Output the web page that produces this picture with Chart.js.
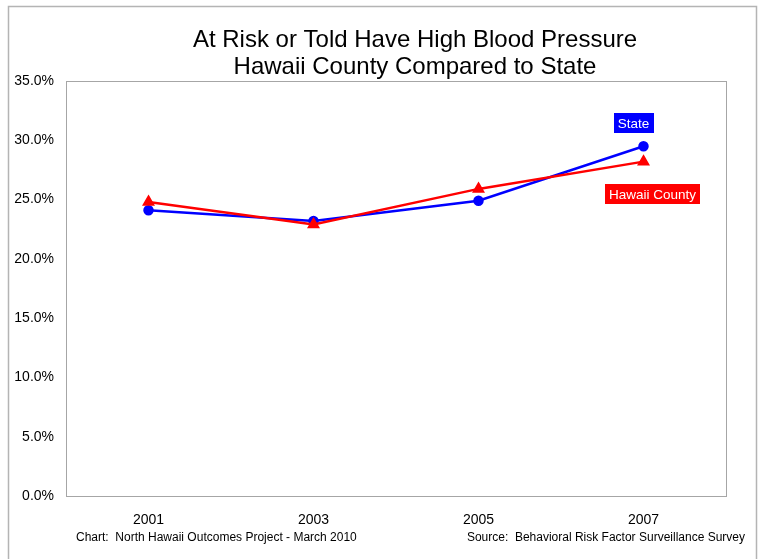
<!DOCTYPE html>
<html>
<head>
<meta charset="utf-8">
<script src="https://cdn.jsdelivr.net/npm/chart.js@4.4.0/dist/chart.umd.min.js"></script>
<style>
  html, body { margin: 0; padding: 0; background: #ffffff; }
  #wrap { width: 759px; height: 559px; position: relative; }
</style>
</head>
<body>
<div id="wrap"><canvas id="bp-chart" width="759" height="559"></canvas></div>
<script>
    // data
    const years = ['2001', '2003', '2005', '2007'];
    const stateValues = [24.1, 23.2, 24.9, 29.5];
    const hawaiiCountyValues = [24.8, 22.9, 25.9, 28.2];
    const yTicks = [0, 5, 10, 15, 20, 25, 30, 35];

    const titleLines = ['At Risk or Told Have High Blood Pressure', 'Hawaii County Compared to State'];
    const footerLeft = 'Chart:  North Hawaii Outcomes Project - March 2010';
    const footerRight = 'Source:  Behavioral Risk Factor Surveillance Survey';

    const FONT = '"Liberation Sans", Arial, sans-serif';

    // frame, title, footer and series labels
    const decorPlugin = {
        id: 'decor',
        beforeDraw(chart) {
            const ctx = chart.ctx;
            ctx.save();
            ctx.fillStyle = '#ffffff';
            ctx.fillRect(0, 0, chart.width, chart.height);
            // outer frame (bottom runs off the picture)
            ctx.strokeStyle = '#b4b4b4';
            ctx.lineWidth = 1.5;
            ctx.beginPath();
            ctx.moveTo(8.5, 570);
            ctx.lineTo(8.5, 6.5);
            ctx.lineTo(756.5, 6.5);
            ctx.lineTo(756.5, 570);
            ctx.stroke();
            ctx.restore();
        },
        afterDatasetsDraw(chart) {
            const ctx = chart.ctx;
            const area = chart.chartArea;
            const xs = chart.scales.x;
            const ys = chart.scales.y;
            ctx.save();

            // plot area border
            ctx.strokeStyle = '#a6a6a6';
            ctx.lineWidth = 1;
            ctx.strokeRect(Math.round(area.left) + 0.5, Math.round(area.top) + 0.5,
                Math.round(area.right - area.left), Math.round(area.bottom - area.top));

            // title
            ctx.fillStyle = '#000000';
            ctx.font = '24px ' + FONT;
            ctx.textAlign = 'center';
            ctx.textBaseline = 'middle';
            ctx.fillText(titleLines[0], 415, 40);
            ctx.fillText(titleLines[1], 415, 67);

            // footer
            ctx.font = '12px ' + FONT;
            ctx.textAlign = 'left';
            ctx.fillText(footerLeft, 76, 538);
            ctx.textAlign = 'right';
            ctx.fillText(footerRight, 745, 538);

            // series labels next to the last point
            const last = years.length - 1;
            const drawTag = (text, bg, cx, cy) => {
                ctx.font = '13.5px ' + FONT;
                const w = ctx.measureText(text).width + 8;
                const h = 20;
                ctx.fillStyle = bg;
                ctx.fillRect(Math.round(cx - w / 2), Math.round(cy - h / 2), Math.round(w), h);
                ctx.fillStyle = '#ffffff';
                ctx.textAlign = 'center';
                ctx.textBaseline = 'middle';
                ctx.fillText(text, cx, cy + 1);
            };
            drawTag('State', '#0000ff', xs.getPixelForValue(last) - 10, ys.getPixelForValue(31.45));
            drawTag('Hawaii County', '#ff0000', xs.getPixelForValue(last) + 9, ys.getPixelForValue(25.45));

            ctx.restore();
        }
    };

    new Chart(document.getElementById('bp-chart'), {
        type: 'line',
        data: {
            labels: years,
            datasets: [
                {
                    label: 'State',
                    data: stateValues,
                    borderColor: '#0000ff',
                    backgroundColor: '#0000ff',
                    borderWidth: 2.5,
                    pointStyle: 'circle',
                    pointRadius: 4,
                    tension: 0,
                    order: 1
                },
                {
                    label: 'Hawaii County',
                    data: hawaiiCountyValues,
                    borderColor: '#ff0000',
                    backgroundColor: '#ff0000',
                    borderWidth: 2.5,
                    pointStyle: 'triangle',
                    pointRadius: 5,
                    tension: 0,
                    order: 0
                }
            ]
        },
        options: {
            responsive: false,
            animation: false,
            devicePixelRatio: 1,
            layout: { padding: { top: 81, right: 33, left: 0, bottom: 0 } },
            scales: {
                x: {
                    offset: true,
                    grid: { display: false, drawTicks: false },
                    border: { display: false },
                    ticks: { color: '#000000', font: { family: FONT, size: 14 }, padding: 16, maxRotation: 0 },
                    afterFit(scale) { scale.height = 63; }
                },
                y: {
                    min: 0,
                    max: 35,
                    afterBuildTicks(scale) { scale.ticks = yTicks.map(v => ({ value: v })); },
                    grid: { display: false, drawTicks: false },
                    border: { display: false },
                    ticks: {
                        color: '#000000',
                        font: { family: FONT, size: 14 },
                        padding: 12,
                        callback: v => v.toFixed(1) + '%'
                    },
                    afterFit(scale) { scale.width = 66; }
                }
            },
            plugins: {
                legend: { display: false },
                title: { display: false },
                tooltip: { enabled: false }
            }
        },
        plugins: [decorPlugin]
    });
</script>
</body>
</html>
